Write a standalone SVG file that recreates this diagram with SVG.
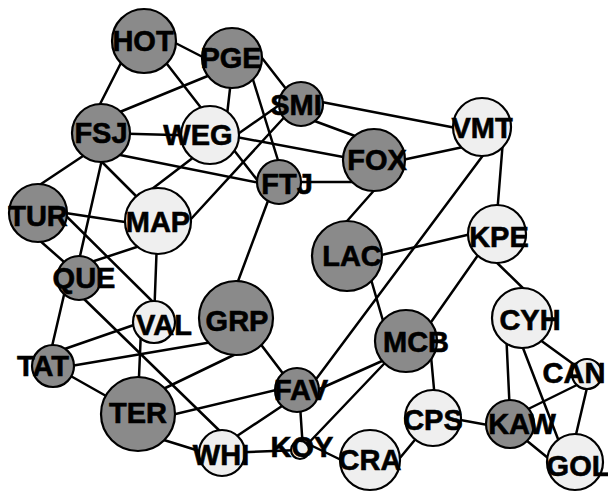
<svg xmlns="http://www.w3.org/2000/svg" width="608" height="492" viewBox="0 0 608 492">
<style>
.e line{stroke:#000;stroke-width:2.5;stroke-linecap:round}
.d{fill:#8a8a8a;stroke:#000;stroke-width:2.2}
.l{fill:#efefef;stroke:#000;stroke-width:2.2}
text{font-family:"Liberation Sans",Arial,sans-serif;font-weight:bold;font-size:29px;fill:#000;stroke:#000;stroke-width:0.6;text-anchor:middle}
</style>
<rect width="608" height="492" fill="#fff"/>
<g id="connectors" class="e">
<line x1="150" y1="30" x2="230" y2="71"/>
<line x1="125" y1="55" x2="97" y2="110"/>
<line x1="160" y1="55" x2="265" y2="190"/>
<line x1="110" y1="116" x2="215" y2="73"/>
<line x1="231" y1="80" x2="227" y2="115"/>
<line x1="255" y1="49" x2="290" y2="94"/>
<line x1="250" y1="70" x2="281" y2="170"/>
<line x1="101" y1="133" x2="210" y2="136"/>
<line x1="110" y1="153" x2="275" y2="186"/>
<line x1="95" y1="148" x2="35" y2="188"/>
<line x1="95" y1="155" x2="150" y2="210"/>
<line x1="108" y1="133" x2="75" y2="278"/>
<line x1="207" y1="147" x2="150" y2="190.5"/>
<line x1="215" y1="150" x2="295" y2="94"/>
<line x1="215" y1="133" x2="370" y2="162"/>
<line x1="290" y1="111" x2="180" y2="231"/>
<line x1="301" y1="98" x2="482" y2="133"/>
<line x1="301" y1="116" x2="374" y2="143"/>
<line x1="279" y1="182" x2="374" y2="182"/>
<line x1="275" y1="182" x2="231" y2="300"/>
<line x1="374" y1="166" x2="482" y2="143"/>
<line x1="385" y1="178" x2="340" y2="229"/>
<line x1="503" y1="140" x2="497" y2="215"/>
<line x1="490" y1="146" x2="305" y2="394"/>
<line x1="360" y1="260" x2="497" y2="228"/>
<line x1="366" y1="262" x2="390" y2="345"/>
<line x1="490" y1="238" x2="415" y2="345"/>
<line x1="490" y1="256" x2="530" y2="295"/>
<line x1="506" y1="330" x2="510" y2="415"/>
<line x1="518" y1="335" x2="563" y2="452"/>
<line x1="525" y1="329" x2="587" y2="374"/>
<line x1="587" y1="380" x2="510" y2="418"/>
<line x1="590" y1="375" x2="570" y2="460"/>
<line x1="510" y1="427" x2="575" y2="480"/>
<line x1="433" y1="415" x2="510" y2="429"/>
<line x1="430" y1="345" x2="435" y2="400"/>
<line x1="433" y1="418" x2="385" y2="476"/>
<line x1="400" y1="353" x2="297" y2="399"/>
<line x1="400" y1="347" x2="300" y2="452"/>
<line x1="300" y1="440" x2="370" y2="474"/>
<line x1="222" y1="453" x2="300" y2="450"/>
<line x1="299" y1="390" x2="303" y2="450"/>
<line x1="297" y1="396" x2="222" y2="446"/>
<line x1="297" y1="385" x2="138" y2="423"/>
<line x1="240" y1="317" x2="297" y2="392"/>
<line x1="130" y1="405" x2="240" y2="352"/>
<line x1="53" y1="369" x2="236" y2="338"/>
<line x1="138" y1="432" x2="222" y2="458"/>
<line x1="53" y1="366" x2="138" y2="414"/>
<line x1="141" y1="330" x2="138" y2="400"/>
<line x1="39" y1="209" x2="158" y2="227"/>
<line x1="45" y1="195" x2="156" y2="305"/>
<line x1="30" y1="232" x2="80" y2="276"/>
<line x1="79" y1="266" x2="158" y2="240"/>
<line x1="67" y1="282" x2="50" y2="355"/>
<line x1="82" y1="297" x2="225" y2="436"/>
<line x1="53" y1="353" x2="154" y2="318"/>
<line x1="157" y1="240" x2="154" y2="320"/>
</g>
<g id="node-HOT"><circle class="d" cx="144" cy="41" r="32"/><text x="143" y="51">HOT</text></g>
<g id="node-PGE"><circle class="d" cx="232" cy="58" r="30"/><text x="231" y="68">PGE</text></g>
<g id="node-SMI"><circle class="d" cx="301" cy="104" r="22"/><text x="296" y="115">SMI</text></g>
<g id="node-FSJ"><circle class="d" cx="101" cy="133" r="29"/><text x="101" y="143">FSJ</text></g>
<g id="node-WEG"><circle class="l" cx="210" cy="135" r="29"/><text x="198" y="145">WEG</text></g>
<g id="node-FTJ"><circle class="d" cx="279" cy="182" r="22"/><text x="287" y="194">FTJ</text></g>
<g id="node-FOX"><circle class="d" cx="374" cy="160" r="31"/><text x="377" y="170">FOX</text></g>
<g id="node-VMT"><circle class="l" cx="482" cy="127" r="29"/><text x="482" y="138">VMT</text></g>
<g id="node-KPE"><circle class="l" cx="497" cy="234" r="29"/><text x="499" y="247">KPE</text></g>
<g id="node-LAC"><circle class="d" cx="347" cy="256" r="35"/><text x="352" y="266">LAC</text></g>
<g id="node-TUR"><circle class="d" cx="38" cy="213" r="29"/><text x="38" y="226">TUR</text></g>
<g id="node-MAP"><circle class="l" cx="158" cy="221" r="33"/><text x="158" y="232">MAP</text></g>
<g id="node-QUE"><circle class="d" cx="79" cy="278" r="22"/><text x="84" y="288">QUE</text></g>
<g id="node-VAL"><circle class="l" cx="154" cy="322" r="21"/><text x="164" y="335">VAL</text></g>
<g id="node-GRP"><circle class="d" cx="236" cy="318" r="37"/><text x="237" y="331">GRP</text></g>
<g id="node-TAT"><circle class="d" cx="53" cy="366" r="21"/><text x="43" y="376">TAT</text></g>
<g id="node-TER"><circle class="d" cx="138" cy="414" r="37"/><text x="138" y="423">TER</text></g>
<g id="node-WHI"><circle class="l" cx="222" cy="453" r="23"/><text x="221" y="465">WHI</text></g>
<g id="node-FAV"><circle class="d" cx="297" cy="390" r="22"/><text x="301" y="400">FAV</text></g>
<g id="node-KOY"><circle class="l" cx="300" cy="450" r="9"/><text x="302" y="457">KOY</text></g>
<g id="node-CRA"><circle class="l" cx="370" cy="460" r="30"/><text x="370" y="470">CRA</text></g>
<g id="node-CPS"><circle class="l" cx="433" cy="418" r="28"/><text x="433" y="430">CPS</text></g>
<g id="node-MCB"><circle class="d" cx="406" cy="341" r="31"/><text x="416" y="352">MCB</text></g>
<g id="node-KAW"><circle class="d" cx="510" cy="424" r="24"/><text x="522" y="434">KAW</text></g>
<g id="node-CYH"><circle class="l" cx="522" cy="318" r="30"/><text x="530" y="330">CYH</text></g>
<g id="node-CAN"><circle class="l" cx="587" cy="374" r="15"/><text x="574" y="383">CAN</text></g>
<g id="node-GOL"><circle class="l" cx="575" cy="462" r="28"/><text x="578" y="476">GOL</text></g>
</svg>
